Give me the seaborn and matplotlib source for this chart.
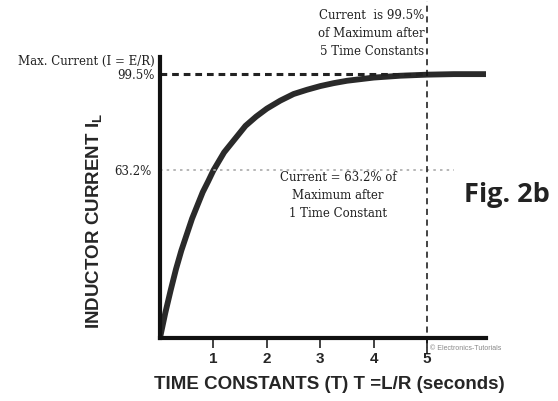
import matplotlib
matplotlib.use("Agg")
import matplotlib.pyplot as plt
import seaborn as sns
import pandas as pd

# data (time constants vs % of maximum current)
time_constants = [0, 0.1, 0.2, 0.3, 0.4, 0.5, 0.6, 0.7, 0.8, 0.9, 1.0, 1.2, 1.4, 1.6,
                  1.8, 2.0, 2.25, 2.5, 2.75, 3.0, 3.25, 3.5, 3.75, 4.0, 4.5, 5.0, 5.5, 6.1]
current_pct = [0, 9.5, 18, 26, 33, 39, 45, 50, 55, 59, 63.2, 70, 75, 80,
               83.5, 86.5, 89.5, 92, 93.6, 95, 96.1, 97, 97.6, 98.2, 98.9, 99.3, 99.5, 99.5]
x_ticks = [1, 2, 3, 4, 5]
y_marks = [63.2, 99.5]
y_mark_labels = ["63.2%", "99.5%"]

sns.set_theme(style="white")
plt.rcParams['font.family'] = ['Liberation Sans', 'DejaVu Sans']

fig = plt.figure(figsize=(5.58, 4.02), dpi=100)
ax = fig.add_axes([0.2867, 0.1567, 0.871 - 0.2867, 0.856 - 0.1567])

df = pd.DataFrame({"t": time_constants, "i": current_pct})
sns.lineplot(data=df, x="t", y="i", ax=ax, color="#2a2a2a", linewidth=4.2,
             solid_capstyle="butt", solid_joinstyle="round")

ax.set_xlim(0, 6.1)
ax.set_ylim(0, 106)

# reference lines
ax.plot([0, 5], [y_marks[1], y_marks[1]], color="#222222", linestyle=(0, (2.2, 1.6)),
        linewidth=2.2)
ax.plot([0, 5.5], [y_marks[0], y_marks[0]], color="#aaaaaa", linestyle=(0, (1.5, 2.5)),
        linewidth=1.2)
ax.plot([5, 5], [-6, 127], color="#111111", linestyle=(0, (4, 3)), linewidth=1.1,
        clip_on=False)

# spines
for s in ["top", "right"]:
    ax.spines[s].set_visible(False)
for s in ["left", "bottom"]:
    ax.spines[s].set_linewidth(3)
    ax.spines[s].set_color("#111111")

ax.set_xticks(x_ticks)
ax.set_xticklabels([str(v) for v in x_ticks], fontweight="bold", fontsize=11)
ax.tick_params(axis="x", direction="out", length=7, width=1.2, color="#222222",
               pad=2, bottom=True)
ax.set_yticks([])

ax.set_xlabel("TIME CONSTANTS (T) T =L/R (seconds)", fontsize=13.5, fontweight="bold")
ax.xaxis.set_label_coords(0.52, -0.132)
ax.set_ylabel(r"INDUCTOR CURRENT I$_\mathregular{L}$", fontsize=13.5, fontweight="bold")
ax.yaxis.set_label_coords(-0.17, 0.42)

serif = ['DejaVu Serif']
ax.text(-0.1, y_marks[1], y_mark_labels[1], ha="right", va="center", fontsize=8.5,
        family=serif, color="#222222")
ax.text(-0.15, y_marks[0], y_mark_labels[0], ha="right", va="center", fontsize=8.5,
        family=serif, color="#222222")
ax.text(-0.1, 104.5, "Max. Current (I = E/R)", ha="right", va="center", fontsize=8.5,
        family=serif, color="#222222")

ax.text(4.95, 106, "Current  is 99.5%\nof Maximum after\n5 Time Constants",
        ha="right", va="bottom", fontsize=8.5, family=serif, linespacing=1.5,
        color="#222222")
ax.text(3.33, 63.2, "Current = 63.2% of\nMaximum after\n1 Time Constant",
        ha="center", va="top", fontsize=8.5, family=serif, linespacing=1.5,
        color="#222222")

fig.text(0.909, 0.515, "Fig. 2b", ha="center", va="center", fontsize=19.5,
         fontweight="bold", family=['Open Sans', 'DejaVu Sans'], color="#222222")
ax.text(5.06, -3.6, "© Electronics-Tutorials", ha="left", va="center", fontsize=5,
        color="#888888", clip_on=False)

fig.savefig("out.png", dpi=100, facecolor="white")
